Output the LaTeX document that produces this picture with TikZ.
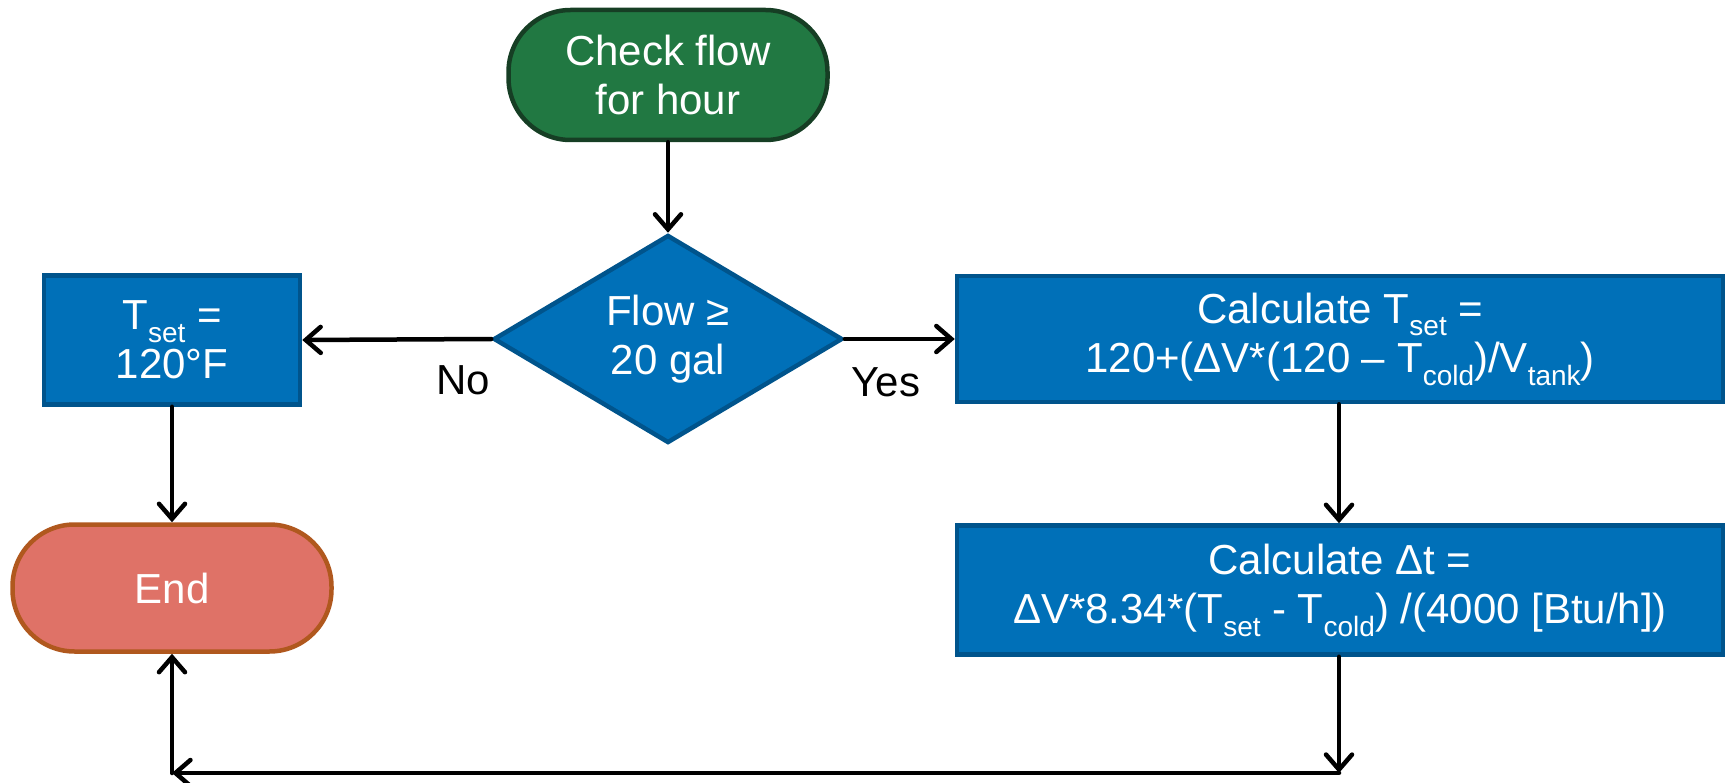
\documentclass[tikz,border=0pt]{standalone}
\usepackage{fontspec}
\setmainfont{Liberation Sans}
\usetikzlibrary{shapes.geometric,arrows.meta}

% lowered, smaller index text
\newcommand\idx[1]{\raisebox{-0.3em}{\fontsize{28}{28}\selectfont #1}}

\definecolor{procblue}{RGB}{0,112,184}
\definecolor{procedge}{RGB}{0,84,140}
\definecolor{startfill}{RGB}{33,120,66}
\definecolor{startedge}{RGB}{22,62,36}
\definecolor{endfill}{RGB}{223,114,103}
\definecolor{endedge}{RGB}{176,88,30}

\tikzset{
  txt/.style={font=\fontsize{42}{49.5}\selectfont, align=center, inner sep=0pt},
  procbox/.style={txt, rectangle, draw=procedge, fill=procblue, text=white,
    line width=4.5pt},
  terminal/.style={txt, rectangle, rounded corners=62pt, line width=4.5pt, text=white},
  decision/.style={txt, diamond, aspect=1.665, draw=procedge, fill=procblue,
    text=white, line width=4.5pt},
  flow/.style={line width=4.5pt, line cap=round, line join=round,
    -{Straight Barb[length=15pt,width=26pt,line cap=round]}},
  lbl/.style={font=\fontsize{42}{49.5}\selectfont, inner sep=0pt},
}

\begin{document}
\begin{tikzpicture}[x=1pt, y=-1pt]
  \useasboundingbox (0,0) rectangle (1728,783);

  \node[terminal, draw=startedge, fill=startfill,
        minimum width=319pt, minimum height=130pt] (start) at (668,75)
        {Check flow\\for hour};
  \node[decision, minimum width=349pt, minimum height=208pt] (dec) at (668,339)
        {Flow ≥\\20 gal};
  \node[procbox, minimum width=256pt, minimum height=129pt] (tset) at (172,340)
        {T\idx{set} =\\120°F};
  \node[terminal, draw=endedge, fill=endfill,
        minimum width=319pt, minimum height=127pt] (end) at (172,588) {End};
  \node[procbox, minimum width=766pt, minimum height=126pt] (calc1) at (1340,339)
        {Calculate T\idx{set} =\\120+(ΔV*(120 – T\idx{cold})/V\idx{tank})};
  \node[procbox, minimum width=766pt, minimum height=129pt] (calc2) at (1340,590)
        {Calculate Δt =\\ΔV*8.34*(T\idx{set} - T\idx{cold}) /(4000 [Btu/h])};

  \coordinate (br) at (1339,773);
  \coordinate (bl) at (172,773);

  \draw[flow] (start) -- (dec);
  \draw[flow] (dec.west) -- (tset.east);
  \draw[flow] (dec.east) -- (calc1.west);
  \draw[flow] (tset) -- (end);
  \draw[flow] (calc1.south -| br) -- (calc2.north -| br);
  \draw[flow] (calc2.south -| br) -- (br);
  \draw[flow] (br) -- (bl);
  \draw[flow] (bl) -- (end);

  \node[lbl] (no) at (463,380) {No};
  \node[lbl] (yes) at (886,382) {Yes};
\end{tikzpicture}
\end{document}
